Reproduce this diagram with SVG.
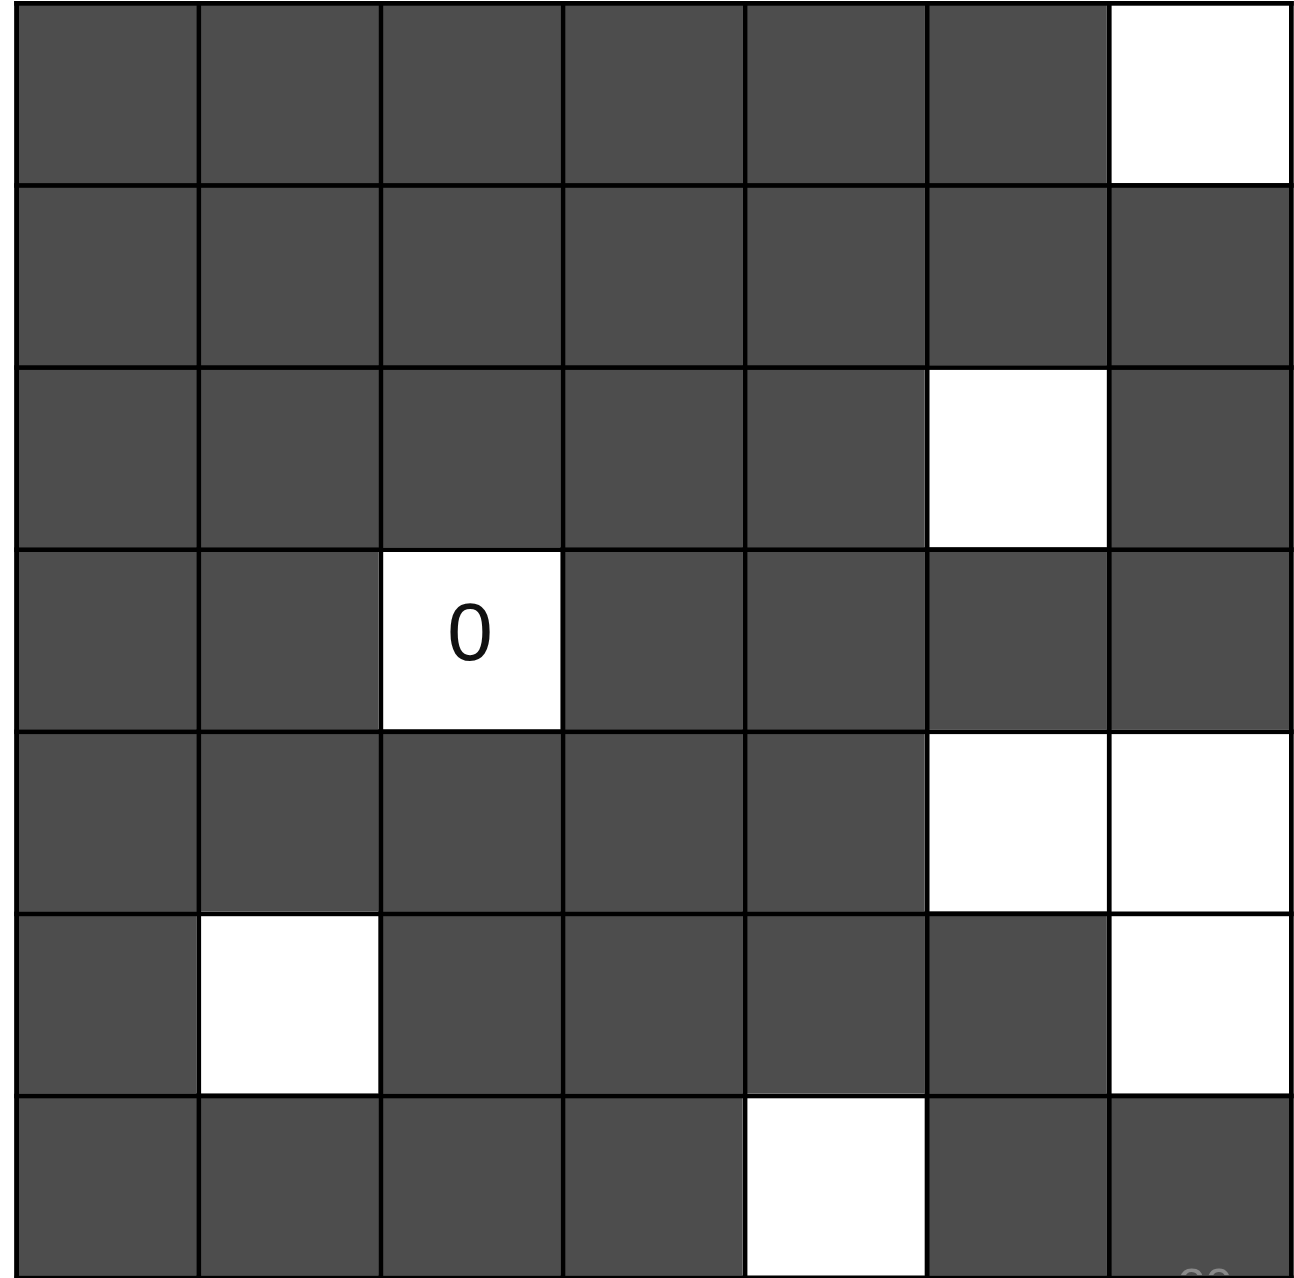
<svg xmlns="http://www.w3.org/2000/svg" width="1294" height="1278" viewBox="0 0 1294 1278">
  <style>
    .d { fill: #4d4d4d; }
    .w { fill: #ffffff; }
    .ln { fill: #000000; }
    .lbl { font-family: "Liberation Sans", Arial, sans-serif; font-size: 82px; fill: #111111; text-anchor: middle; }
    .pg { font-family: "Liberation Sans", Arial, sans-serif; font-size: 49px; fill: #8a8a8a; }
  </style>
  <rect x="0" y="0" width="1294" height="1278" fill="#ffffff"/>
  <g id="cells">
    <!-- row 0 -->
    <g id="r0c0"><rect class="d" x="14.3" y="1" width="182.1" height="182.1"/></g>
    <g id="r0c1"><rect class="d" x="196.4" y="1" width="182.1" height="182.1"/></g>
    <g id="r0c2"><rect class="d" x="378.5" y="1" width="182.1" height="182.1"/></g>
    <g id="r0c3"><rect class="d" x="560.6" y="1" width="182.1" height="182.1"/></g>
    <g id="r0c4"><rect class="d" x="742.7" y="1" width="182.1" height="182.1"/></g>
    <g id="r0c5"><rect class="d" x="924.8" y="1" width="182.1" height="182.1"/></g>
    <g id="r0c6"><rect class="w" x="1106.9" y="1" width="182.1" height="182.1"/></g>
    <!-- row 1 -->
    <g id="r1c0"><rect class="d" x="14.3" y="183.1" width="182.1" height="182.1"/></g>
    <g id="r1c1"><rect class="d" x="196.4" y="183.1" width="182.1" height="182.1"/></g>
    <g id="r1c2"><rect class="d" x="378.5" y="183.1" width="182.1" height="182.1"/></g>
    <g id="r1c3"><rect class="d" x="560.6" y="183.1" width="182.1" height="182.1"/></g>
    <g id="r1c4"><rect class="d" x="742.7" y="183.1" width="182.1" height="182.1"/></g>
    <g id="r1c5"><rect class="d" x="924.8" y="183.1" width="182.1" height="182.1"/></g>
    <g id="r1c6"><rect class="d" x="1106.9" y="183.1" width="182.1" height="182.1"/></g>
    <!-- row 2 -->
    <g id="r2c0"><rect class="d" x="14.3" y="365.2" width="182.1" height="182.1"/></g>
    <g id="r2c1"><rect class="d" x="196.4" y="365.2" width="182.1" height="182.1"/></g>
    <g id="r2c2"><rect class="d" x="378.5" y="365.2" width="182.1" height="182.1"/></g>
    <g id="r2c3"><rect class="d" x="560.6" y="365.2" width="182.1" height="182.1"/></g>
    <g id="r2c4"><rect class="d" x="742.7" y="365.2" width="182.1" height="182.1"/></g>
    <g id="r2c5"><rect class="w" x="924.8" y="365.2" width="182.1" height="182.1"/></g>
    <g id="r2c6"><rect class="d" x="1106.9" y="365.2" width="182.1" height="182.1"/></g>
    <!-- row 3 -->
    <g id="r3c0"><rect class="d" x="14.3" y="547.3" width="182.1" height="182.1"/></g>
    <g id="r3c1"><rect class="d" x="196.4" y="547.3" width="182.1" height="182.1"/></g>
    <g id="r3c2"><rect class="w" x="378.5" y="547.3" width="182.1" height="182.1"/><text class="lbl" x="470" y="660">0</text></g>
    <g id="r3c3"><rect class="d" x="560.6" y="547.3" width="182.1" height="182.1"/></g>
    <g id="r3c4"><rect class="d" x="742.7" y="547.3" width="182.1" height="182.1"/></g>
    <g id="r3c5"><rect class="d" x="924.8" y="547.3" width="182.1" height="182.1"/></g>
    <g id="r3c6"><rect class="d" x="1106.9" y="547.3" width="182.1" height="182.1"/></g>
    <!-- row 4 -->
    <g id="r4c0"><rect class="d" x="14.3" y="729.4" width="182.1" height="182.1"/></g>
    <g id="r4c1"><rect class="d" x="196.4" y="729.4" width="182.1" height="182.1"/></g>
    <g id="r4c2"><rect class="d" x="378.5" y="729.4" width="182.1" height="182.1"/></g>
    <g id="r4c3"><rect class="d" x="560.6" y="729.4" width="182.1" height="182.1"/></g>
    <g id="r4c4"><rect class="d" x="742.7" y="729.4" width="182.1" height="182.1"/></g>
    <g id="r4c5"><rect class="w" x="924.8" y="729.4" width="182.1" height="182.1"/></g>
    <g id="r4c6"><rect class="w" x="1106.9" y="729.4" width="182.1" height="182.1"/></g>
    <!-- row 5 -->
    <g id="r5c0"><rect class="d" x="14.3" y="911.5" width="182.1" height="182.1"/></g>
    <g id="r5c1"><rect class="w" x="196.4" y="911.5" width="182.1" height="182.1"/></g>
    <g id="r5c2"><rect class="d" x="378.5" y="911.5" width="182.1" height="182.1"/></g>
    <g id="r5c3"><rect class="d" x="560.6" y="911.5" width="182.1" height="182.1"/></g>
    <g id="r5c4"><rect class="d" x="742.7" y="911.5" width="182.1" height="182.1"/></g>
    <g id="r5c5"><rect class="d" x="924.8" y="911.5" width="182.1" height="182.1"/></g>
    <g id="r5c6"><rect class="w" x="1106.9" y="911.5" width="182.1" height="182.1"/></g>
    <!-- row 6 -->
    <g id="r6c0"><rect class="d" x="14.3" y="1093.6" width="182.1" height="182.1"/></g>
    <g id="r6c1"><rect class="d" x="196.4" y="1093.6" width="182.1" height="182.1"/></g>
    <g id="r6c2"><rect class="d" x="378.5" y="1093.6" width="182.1" height="182.1"/></g>
    <g id="r6c3"><rect class="d" x="560.6" y="1093.6" width="182.1" height="182.1"/></g>
    <g id="r6c4"><rect class="w" x="742.7" y="1093.6" width="182.1" height="182.1"/></g>
    <g id="r6c5"><rect class="d" x="924.8" y="1093.6" width="182.1" height="182.1"/></g>
    <g id="r6c6"><rect class="d" x="1106.9" y="1093.6" width="182.1" height="182.1"/></g>
  </g>
  <g id="page-number"><text class="pg" x="1178" y="1302">20</text></g>
  <g id="grid-lines">
    <rect class="ln" x="14.3" y="1" width="4.7" height="1277"/>
    <rect class="ln" x="196.4" y="1" width="4.7" height="1277"/>
    <rect class="ln" x="378.5" y="1" width="4.7" height="1277"/>
    <rect class="ln" x="560.6" y="1" width="4.7" height="1277"/>
    <rect class="ln" x="742.7" y="1" width="4.7" height="1277"/>
    <rect class="ln" x="924.8" y="1" width="4.7" height="1277"/>
    <rect class="ln" x="1106.9" y="1" width="4.7" height="1277"/>
    <rect class="ln" x="1289" y="1" width="4.7" height="1277"/>
    <rect class="ln" x="14.3" y="1" width="1279.4" height="4.7"/>
    <rect class="ln" x="14.3" y="183.1" width="1279.4" height="4.7"/>
    <rect class="ln" x="14.3" y="365.2" width="1279.4" height="4.7"/>
    <rect class="ln" x="14.3" y="547.3" width="1279.4" height="4.7"/>
    <rect class="ln" x="14.3" y="729.4" width="1279.4" height="4.7"/>
    <rect class="ln" x="14.3" y="911.5" width="1279.4" height="4.7"/>
    <rect class="ln" x="14.3" y="1093.6" width="1279.4" height="4.7"/>
    <rect class="ln" x="14.3" y="1275.5" width="1279.4" height="4.7"/>
  </g>
</svg>
